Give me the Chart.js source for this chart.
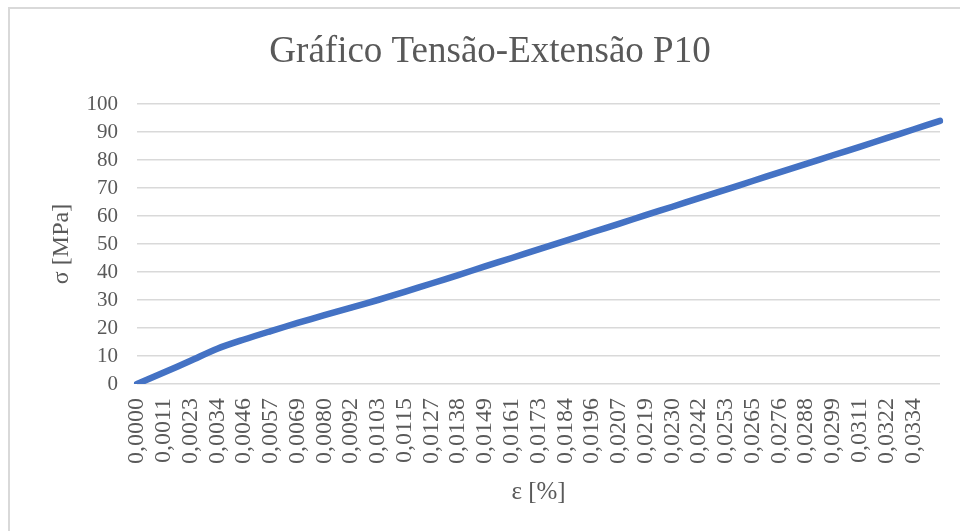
<!DOCTYPE html>
<html>
<head>
<meta charset="utf-8">
<script src="https://cdn.jsdelivr.net/npm/chart.js@4.4.1/dist/chart.umd.min.js"></script>
<style>
    html, body { margin: 0; padding: 0; background: #fff; overflow: hidden; }
    #frame {
        position: absolute; left: 8px; top: 7px;
        width: 1000px; height: 600px;
        border: 2px solid #d9d9d9;
    }
    #wrap { position: absolute; left: 0; top: 0; width: 960px; height: 531px; }
</style>
</head>
<body>
<div id="frame"></div>
<div id="wrap"><canvas id="stressChart" width="960" height="531"></canvas></div>
<script>
// extensão (ε) de cada ponto, como aparece no eixo
const strain = [
    '0,0000', '0,0011', '0,0023', '0,0034', '0,0046', '0,0057', '0,0069', '0,0080',
    '0,0092', '0,0103', '0,0115', '0,0127', '0,0138', '0,0149', '0,0161', '0,0173',
    '0,0184', '0,0196', '0,0207', '0,0219', '0,0230', '0,0242', '0,0253', '0,0265',
    '0,0276', '0,0288', '0,0299', '0,0311', '0,0322', '0,0334', '0,0345'
];

// tensão (σ) em MPa
const stress = [
    0, 4.1, 8.3, 12.6, 15.9, 18.9, 21.8, 24.6,
    27.3, 30.0, 32.9, 35.9, 38.9, 42.0, 45.0, 48.1,
    51.1, 54.2, 57.2, 60.3, 63.3, 66.4, 69.4, 72.5,
    75.6, 78.6, 81.7, 84.7, 87.8, 90.9, 94.0
];

const yTicks = [0, 10, 20, 30, 40, 50, 60, 70, 80, 90, 100];

// o último ponto não tem rótulo no eixo
const labelCount = 30;

const grey = '#595959';
const serif = "'Liberation Serif', 'Times New Roman', serif";

document.addEventListener('DOMContentLoaded', function() {
    const ctx = document.getElementById('stressChart').getContext('2d');

    new Chart(ctx, {
        type: 'line',
        data: {
            labels: strain,
            datasets: [{
                label: 'P10',
                data: stress,
                borderColor: '#4472C4',
                borderWidth: 6.5,
                borderCapStyle: 'round',
                borderJoinStyle: 'round',
                pointRadius: 0,
                tension: 0.3,
                fill: false
            }]
        },
        options: {
            responsive: false,
            animation: false,
            layout: { padding: { left: 20, right: 0, top: 0, bottom: 0 } },
            plugins: {
                legend: { display: false },
                tooltip: { enabled: false },
                title: {
                    display: true,
                    text: 'Gráfico Tensão-Extensão P10',
                    color: grey,
                    font: { family: serif, size: 37, weight: 'normal', lineHeight: 1.2 },
                    padding: { top: 30, bottom: 29.6 }
                }
            },
            scales: {
                x: {
                    type: 'category',
                    offset: false,
                    grid: { display: false, drawTicks: false },
                    border: { display: false },
                    ticks: {
                        autoSkip: false,
                        maxRotation: 90,
                        minRotation: 90,
                        padding: 14,
                        color: grey,
                        font: { family: serif, size: 24 },
                        callback: function(value, index) {
                            return index < labelCount ? this.getLabelForValue(value) : '';
                        }
                    },
                    title: {
                        display: true,
                        text: 'ε [%]',
                        color: grey,
                        font: { family: serif, size: 25, lineHeight: 1.2 },
                        padding: { top: 0, bottom: 24 }
                    },
                    afterFit: function(scale) {
                        scale.height = 147;
                        scale.paddingRight = 20;
                    }
                },
                y: {
                    min: 0,
                    max: 100,
                    afterBuildTicks: function(scale) {
                        scale.ticks = yTicks.map(v => ({ value: v }));
                    },
                    grid: { color: '#d9d9d9', lineWidth: 1.5, drawTicks: false },
                    border: { display: false },
                    ticks: {
                        autoSkip: false,
                        padding: 19,
                        color: grey,
                        font: { family: serif, size: 21 }
                    },
                    title: {
                        display: true,
                        text: 'σ [MPa]',
                        color: grey,
                        font: { family: serif, size: 24, lineHeight: 1.2 },
                        padding: { top: 27, bottom: 0 }
                    },
                    afterFit: function(scale) { scale.width = 117; }
                }
            }
        }
    });
});
</script>
</body>
</html>
